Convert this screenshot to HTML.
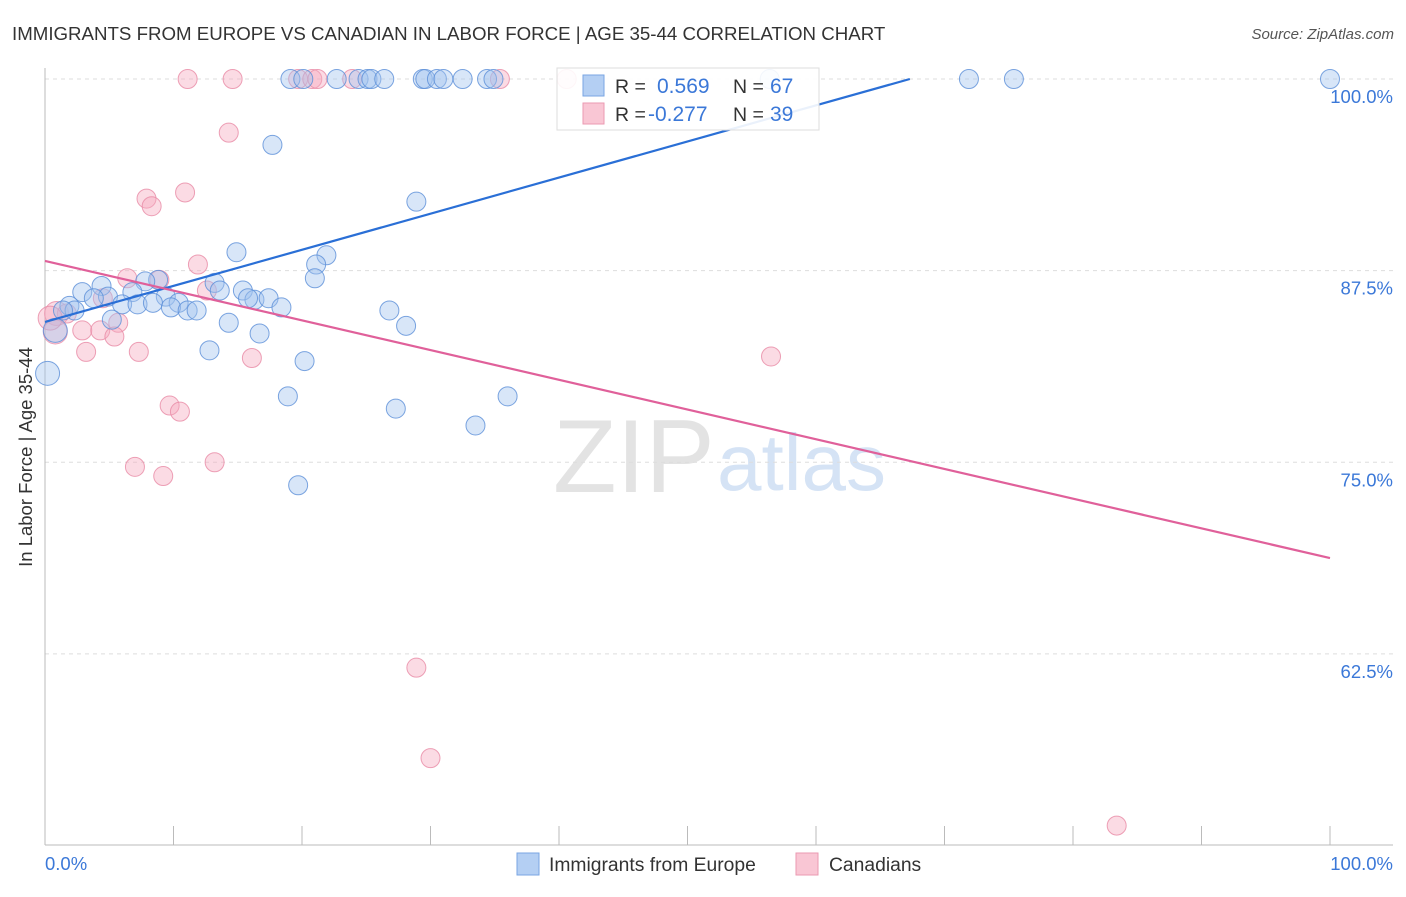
<!DOCTYPE html>
<html><head><meta charset="utf-8"><style>
body{margin:0;background:#fff;font-family:"Liberation Sans",sans-serif;}
svg text{font-family:"Liberation Sans",sans-serif;}
</style></head><body>
<svg id="chart" width="1406" height="892" viewBox="0 0 1406 892">
<text x="12" y="40" font-size="18.7" fill="#333">IMMIGRANTS FROM EUROPE VS CANADIAN IN LABOR FORCE | AGE 35-44 CORRELATION CHART</text>
<text x="1394" y="39" font-size="15" fill="#555" font-style="italic" text-anchor="end">Source: ZipAtlas.com</text>
<g>
<text x="553" y="492" font-size="104" font-family="Liberation Serif" fill="#e3e3e3">ZIP</text>
<text x="717" y="490" font-size="80" fill="#d5e3f5">atlas</text>
</g>
<g id="grid"></g>
<line x1="45" y1="68" x2="45" y2="845" stroke="#bbb"/>
<line x1="45" y1="845" x2="1393" y2="845" stroke="#bbb"/>
<text x="32" y="457" font-size="18.5" fill="#333" text-anchor="middle" transform="rotate(-90 32 457)">In Labor Force | Age 35-44</text>
<text x="45" y="870" font-size="18.5" fill="#3b78d8">0.0%</text>
<text x="1393" y="870" font-size="18.5" fill="#3b78d8" text-anchor="end">100.0%</text>
<g id="pts"></g>
<g id="lines"></g>
<g>
<rect x="557" y="68" width="262" height="62" fill="#fff" fill-opacity="0.9" stroke="#ddd"/>
<rect x="583" y="75" width="21" height="21" fill="#b4cff3" stroke="#7aa6e3"/>
<rect x="583" y="103" width="21" height="21" fill="#f9c6d4" stroke="#eb9ab2"/>
<text x="615" y="93" font-size="19.5" fill="#333">R = </text><text x="657" y="93" font-size="21" fill="#3b78d8">0.569</text>
<text x="733" y="93" font-size="19.5" fill="#333">N = </text><text x="770" y="93" font-size="21" fill="#3b78d8">67</text>
<text x="615" y="121" font-size="19.5" fill="#333">R = </text><text x="648" y="121" font-size="21" fill="#3b78d8">-0.277</text>
<text x="733" y="121" font-size="19.5" fill="#333">N = </text><text x="770" y="121" font-size="21" fill="#3b78d8">39</text>
</g>
<g>
<rect x="517" y="853" width="22" height="22" fill="#b4cff3" stroke="#7aa6e3"/>
<text x="549" y="871" font-size="19.3" fill="#333">Immigrants from Europe</text>
<rect x="796" y="853" width="22" height="22" fill="#f9c6d4" stroke="#eb9ab2"/>
<text x="829" y="871" font-size="19.3" fill="#333">Canadians</text>
</g>
</svg>
<script>
const yTicks=[100,87.5,75,62.5];
const yTickLabels=["100.0%","87.5%","75.0%","62.5%"];
const xTicks=[0,10,20,30,40,50,60,70,80,90,100];
const blueX=[19.1,20.1,22.7,24.4,25.1,25.4,26.4,29.4,29.6,30.5,31.0,32.5,34.4,34.9,56.4,71.9,75.4,100,
17.7,28.9,14.9,21.9,21.1,21.0,8.8,7.8,13.2,4.4,2.9,6.8,13.6,4.9,15.4,9.4,16.3,15.8,3.8,1.9,6.0,7.2,8.4,10.4,17.4,9.8,11.1,11.8,18.4,2.3,1.4,26.8,5.2,14.3,28.1,16.7,0.8,12.8,20.2,0.2,18.9,27.3,36.0,33.5,19.7];
const blueY=[100,100,100,100,100,100,100,100,100,100,100,100,100,100,100,100,100,100,
95.7,92.0,88.7,88.5,87.9,87.0,86.9,86.8,86.7,86.5,86.1,86.1,86.2,85.8,86.2,85.8,85.6,85.7,85.7,85.2,85.3,85.3,85.4,85.4,85.7,85.1,84.9,84.9,85.1,84.9,84.9,84.9,84.3,84.1,83.9,83.4,83.6,82.3,81.6,80.8,79.3,78.5,79.3,77.4,73.5];
const pinkX=[11.1,14.6,19.7,20.8,21.2,23.9,35.4,40.6,14.3,7.9,8.3,10.9,11.9,6.4,8.9,12.6,4.5,0.9,1.7,5.7,2.9,4.3,5.4,3.2,7.3,16.1,56.5,9.7,10.5,7.0,13.2,9.2,28.9,30.0,83.4,0.8,0.4];
const pinkY=[100,100,100,100,100,100,100,100,96.5,92.2,91.7,92.6,87.9,87.0,86.9,86.2,85.7,84.7,84.7,84.1,83.6,83.6,83.2,82.2,82.2,81.8,81.9,78.7,78.3,74.7,75.0,74.1,61.6,55.7,51.3,83.5,84.4];
const blueTrend=[84.15,0.2355]; // intercept, slope
const pinkTrend=[88.13,-0.1938];
const NS="http://www.w3.org/2000/svg";
const sx=v=>45+v*12.85, sy=v=>79+(100-v)*15.33;
const grid=document.getElementById('grid'), pts=document.getElementById('pts'), lines=document.getElementById('lines');
function mk(t,a,p){const e=document.createElementNS(NS,t);for(const k in a)e.setAttribute(k,a[k]);p.appendChild(e);return e;}
yTicks.forEach((v,i)=>{
 const l=mk('line',{x1:45,x2:1393,y1:sy(v),y2:sy(v),stroke:'#ddd','stroke-dasharray':'4,4'},grid);
 
 
 const t=mk('text',{x:1393,y:sy(v)+24,'font-size':18.5,fill:'#3b78d8','text-anchor':'end'},grid);
 t.textContent=yTickLabels[i];
 
 
});
xTicks.forEach(v=>{
 const l=mk('line',{x1:sx(v),x2:sx(v),y1:826,y2:845,stroke:'#bbb'},grid);
 
 
});
function dots(X,Y,fill,stroke,name){
 X.forEach((x,i)=>{
  const big=(x<1);
  const c=mk('circle',{cx:sx(x),cy:sy(Y[i]),r:big?12:9.5,fill:fill,'fill-opacity':0.42,stroke:stroke,'stroke-opacity':0.8,'stroke-width':1},pts);
  
  
 });
}
dots(pinkX,pinkY,'#f5a9bf','#e88aa5','canadians-point');
dots(blueX,blueY,'#a3c4ef','#5b8fd8','europe-point');
const bx2=(100-blueTrend[0])/blueTrend[1];
const bl=mk('line',{x1:sx(0),y1:sy(blueTrend[0]),x2:sx(bx2),y2:sy(100),stroke:'#2a6fd6','stroke-width':2.2},lines);


const pl=mk('line',{x1:sx(0),y1:sy(pinkTrend[0]),x2:sx(100),y2:sy(pinkTrend[0]+pinkTrend[1]*100),stroke:'#e0609a','stroke-width':2.2},lines);


</script>
</body></html>
